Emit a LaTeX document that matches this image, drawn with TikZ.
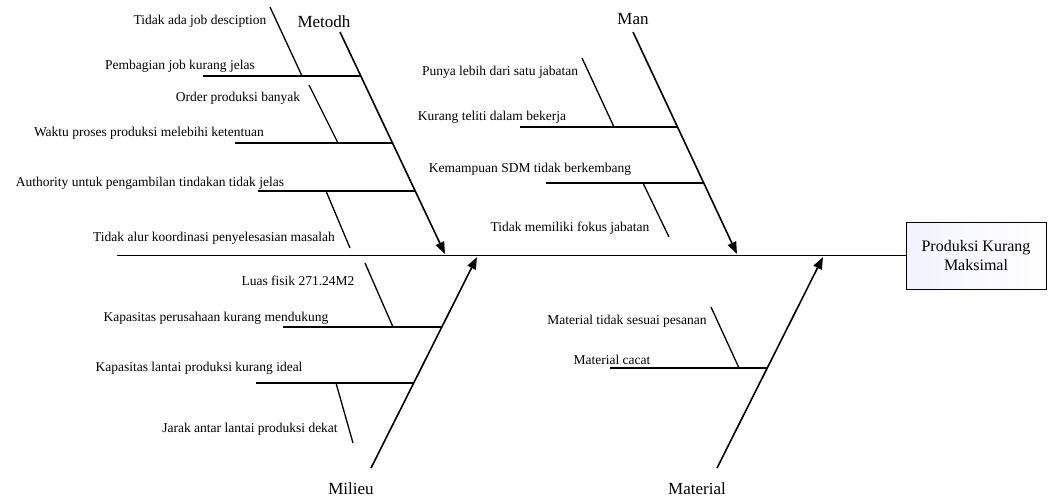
\documentclass[tikz,border=0pt]{standalone}
\usepackage{fontspec}
\setmainfont{Liberation Serif}
\usetikzlibrary{arrows.meta}

\tikzset{
  bone/.style={line width=1.6pt, -{Triangle[length=12pt,width=9pt]}},
  rib/.style={line width=1.3pt},
  cause/.style={font=\fontsize{13.5}{15}\selectfont, inner sep=0pt},
  group/.style={font=\fontsize{17}{19}\selectfont, inner sep=0pt},
}

\begin{document}
\begin{tikzpicture}[x=1pt, y=-1pt]
\useasboundingbox (0,0) rectangle (1048,499);

% ── Akibat (kepala ikan) ──────────────────────────────────────
\node[draw, line width=0.9pt, left color=blue!5, right color=white,
      minimum width=140pt, minimum height=67pt, align=center,
      font=\fontsize{16}{19}\selectfont] (effect) at (976,255.5)
    {Produksi Kurang\\Maksimal};
\coordinate (tail) at (117,255.5);
\draw[line width=1.8pt] (tail) -- (effect.west);

% ── Metodh ────────────────────────────────────────────────────
\node[group] (metodh) at (324,22) {Metodh};
\coordinate (metodh top) at (340,32);
\coordinate (metodh tip) at (445,254);
\draw[bone] (metodh top) -- (metodh tip);
\draw[rib] (203,76) -- (360.7,76);
\draw[rib] (235,143) -- (392.3,143);
\draw[rib] (258,191) -- (414.9,191);
\draw[rib] (270,7) -- (302,76);
\draw[rib] (309,85) -- (338,143);
\draw[rib] (326,191) -- (350,248);
\node[cause] (m1) at (200,21)  {Tidak ada job desciption};
\node[cause] (m2) at (180,66)  {Pembagian job kurang jelas};
\node[cause] (m3) at (238,98)  {Order produksi banyak};
\node[cause] (m4) at (149,133) {Waktu proses produksi melebihi ketentuan};
\node[cause] (m5) at (150,183) {Authority untuk pengambilan tindakan tidak jelas};
\node[cause] (m6) at (214,238) {Tidak alur koordinasi penyelesasian masalah};

% ── Man ───────────────────────────────────────────────────────
\node[group] (man) at (633,19) {Man};
\coordinate (man top) at (633,32);
\coordinate (man tip) at (737,254);
\draw[bone] (man top) -- (man tip);
\draw[rib] (520,127) -- (677.3,127);
\draw[rib] (546,183) -- (703.4,183);
\draw[rib] (582,58) -- (614,127);
\draw[rib] (643,183) -- (669,237);
\node[cause] (a1) at (500,72)  {Punya lebih dari satu jabatan};
\node[cause] (a2) at (492,117) {Kurang teliti dalam bekerja};
\node[cause] (a3) at (530,169) {Kemampuan SDM tidak berkembang};
\node[cause] (a4) at (570,228) {Tidak memiliki fokus jabatan};

% ── Milieu ────────────────────────────────────────────────────
\node[group] (milieu) at (351,489) {Milieu};
\coordinate (milieu foot) at (371,468);
\coordinate (milieu tip) at (477,257);
\draw[bone] (milieu foot) -- (milieu tip);
\draw[rib] (283,327) -- (441.8,327);
\draw[rib] (256,383) -- (413.7,383);
\draw[rib] (365,263) -- (393,327);
\draw[rib] (336,383) -- (353,443);
\node[cause] (l1) at (298,281) {Luas fisik 271.24M2};
\node[cause] (l2) at (216,318) {Kapasitas perusahaan kurang mendukung};
\node[cause] (l3) at (199,368) {Kapasitas lantai produksi kurang ideal};
\node[cause] (l4) at (250,429) {Jarak antar lantai produksi dekat};

% ── Material ──────────────────────────────────────────────────
\node[group] (material) at (697,489) {Material};
\coordinate (material foot) at (717,468);
\coordinate (material tip) at (823,257);
\draw[bone] (material foot) -- (material tip);
\draw[rib] (610,368) -- (767.2,368);
\draw[rib] (711,307) -- (739,368);
\node[cause] (t1) at (627,321) {Material tidak sesuai pesanan};
\node[cause] (t2) at (612,360) {Material cacat};

\end{tikzpicture}
\end{document}
